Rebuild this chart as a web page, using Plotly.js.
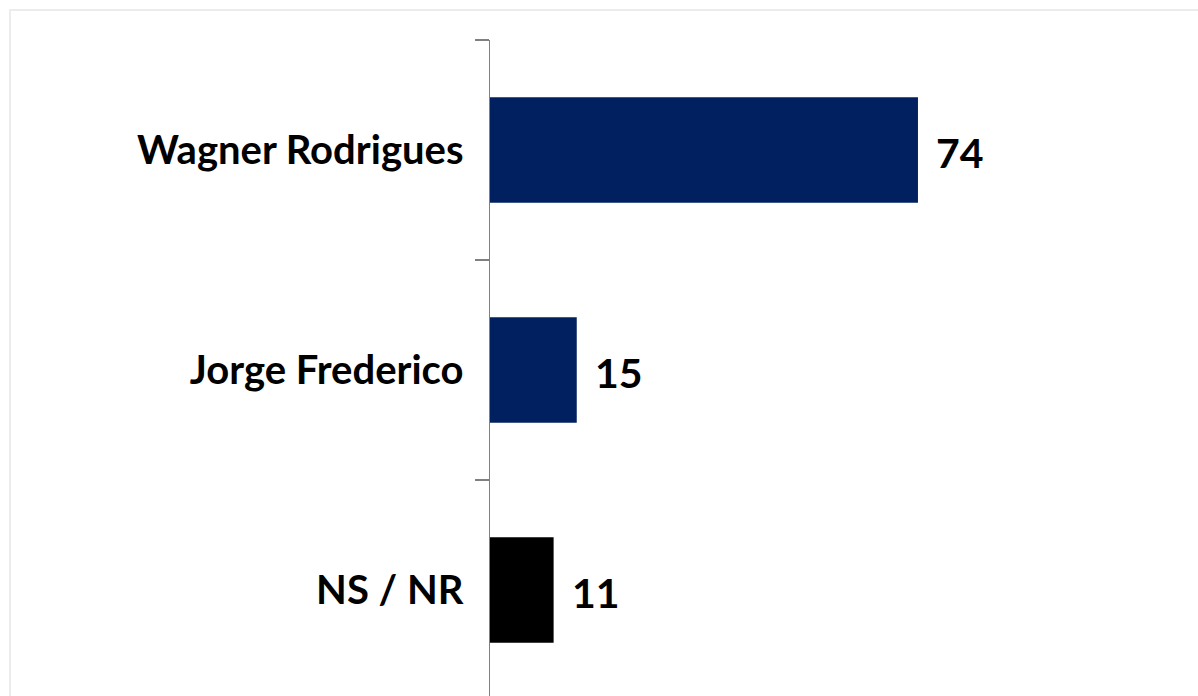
<!DOCTYPE html>
<html>
<head>
<meta charset="utf-8">
<script src="https://cdn.plot.ly/plotly-3.0.1.min.js"></script>
<style>
  html, body { margin: 0; padding: 0; width: 1198px; height: 696px; overflow: hidden; background: #fff; }
  #chart { position: absolute; left: 0; top: 0; width: 1198px; height: 740px; }
  #frame { position: absolute; left: 9px; top: 9px; width: 1300px; height: 800px;
           border-top: 2px solid #ececec; border-left: 2px solid #ececec; pointer-events: none; z-index: 5; }
</style>
</head>
<body>
<div id="chart"></div>
<div id="frame"></div>
<script>
const categories = ["Wagner Rodrigues", "Jorge Frederico", "NS / NR"];
const values = [74, 15, 11];
const barColors = ["#002060", "#002060", "#000000"];

const trace = {
  type: "bar",
  orientation: "h",
  x: values,
  y: categories,
  marker: { color: barColors },
  hoverinfo: "none"
};

const annotations = categories.map((c, i) => ({
  x: values[i],
  y: c,
  xref: "x",
  yref: "y",
  text: String(values[i]),
  showarrow: false,
  xanchor: "left",
  yanchor: "middle",
  xshift: 16,
  yshift: -2,
  font: { family: "Lato", size: 41, color: "#000000", weight: "bold" }
}));

const layout = {
  width: 1198,
  height: 740,
  margin: { l: 490, r: 14, t: 40, b: 40 },
  paper_bgcolor: "#ffffff",
  plot_bgcolor: "#ffffff",
  showlegend: false,
  bargap: 0.52,
  xaxis: {
    range: [0, 120],
    visible: false,
    showgrid: false,
    zeroline: false,
    fixedrange: true
  },
  yaxis: {
    type: "category",
    categoryorder: "array",
    categoryarray: categories,
    autorange: "reversed",
    showline: true,
    linecolor: "#808080",
    linewidth: 1.5,
    ticks: "outside",
    tickson: "boundaries",
    ticklen: 14,
    tickwidth: 1.5,
    tickcolor: "#808080",
    ticklabelstandoff: 17,
    showgrid: false,
    zeroline: false,
    tickfont: { family: "Lato", size: 40, color: "#000000", weight: "bold" },
    fixedrange: true
  },
  annotations: annotations
};

Plotly.newPlot("chart", [trace], layout, { displayModeBar: false, staticPlot: true });
</script>
</body>
</html>
